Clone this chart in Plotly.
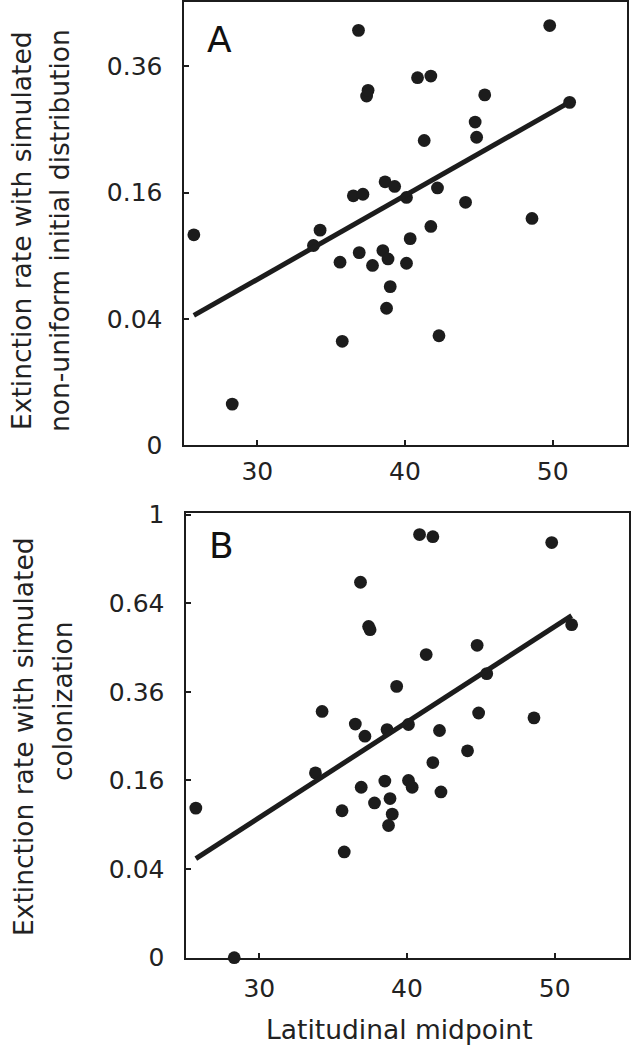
import numpy as np
import plotly.graph_objects as go

# ---- data ----
latitude = [25.7, 28.3, 33.8, 34.25, 35.6, 35.75, 36.5, 36.85, 36.9, 37.15,
            37.4, 37.5, 37.8, 38.5, 38.65, 38.75, 38.85, 39.0, 39.3, 40.1,
            40.1, 40.35, 40.85, 41.3, 41.75, 41.75, 42.2, 42.3, 44.1, 44.75,
            44.85, 45.4, 48.6, 49.8, 51.15]

rate_nonuniform = [0.111, 0.0042, 0.100, 0.116, 0.084, 0.027, 0.156, 0.432, 0.093, 0.158,
                   0.306, 0.316, 0.081, 0.095, 0.174, 0.047, 0.087, 0.063, 0.168, 0.083,
                   0.154, 0.107, 0.339, 0.233, 0.342, 0.120, 0.166, 0.030, 0.148, 0.262,
                   0.238, 0.308, 0.129, 0.442, 0.295]

rate_colonization = [0.114, 0.0, 0.174, 0.309, 0.110, 0.057, 0.278, 0.718, 0.148, 0.250,
                     0.559, 0.548, 0.122, 0.159, 0.265, 0.089, 0.129, 0.105, 0.375, 0.160,
                     0.277, 0.148, 0.912, 0.468, 0.194, 0.903, 0.263, 0.140, 0.218, 0.497,
                     0.305, 0.411, 0.293, 0.878, 0.565]

ytick_a = [0, 0.04, 0.16, 0.36]
ytick_b = [0, 0.04, 0.16, 0.36, 0.64, 1]
xtick = [30, 40, 50]

INK = "#1c1c1c"
FONT = "DejaVu Sans"

fig = go.Figure()

def add_panel(rates, xa, ya):
    x = np.array(latitude)
    s = np.sqrt(np.array(rates))
    fig.add_trace(go.Scatter(x=x, y=s, mode="markers", xaxis=xa, yaxis=ya,
                             marker=dict(size=12.8, color=INK), cliponaxis=False,
                             showlegend=False))
    b, a = np.polyfit(x, s, 1)
    xl = np.array([x.min(), x.max()])
    fig.add_trace(go.Scatter(x=xl, y=a + b * xl, mode="lines", xaxis=xa, yaxis=ya,
                             line=dict(color=INK, width=5), showlegend=False))

add_panel(rate_nonuniform, "x", "y")
add_panel(rate_colonization, "x2", "y2")

axis_common = dict(showline=True, linecolor=INK, linewidth=2, mirror=True,
                   ticks="inside", ticklen=5, tickwidth=1.5, tickcolor=INK,
                   showgrid=False, zeroline=False,
                   tickfont=dict(family=FONT, size=25, color="#222"))

fig.update_layout(
    width=639, height=1050,
    margin=dict(l=0, r=0, t=0, b=0, autoexpand=False),
    paper_bgcolor="white", plot_bgcolor="white",
    xaxis=dict(domain=[183.5 / 639, 626.5 / 639], range=[25, 55], tickvals=xtick,
               anchor="y", ticklabelstandoff=3, **axis_common),
    yaxis=dict(domain=[1 - 445 / 1050, 1 - 1.5 / 1050], range=[0, 0.703],
               tickvals=list(np.sqrt(ytick_a)), ticktext=[str(v) for v in ytick_a],
               anchor="x", ticklabelstandoff=14, **axis_common),
    xaxis2=dict(domain=[185.5 / 639, 628.5 / 639], range=[25, 55], tickvals=xtick,
                anchor="y2", ticklabelstandoff=7, **axis_common),
    yaxis2=dict(domain=[1 - 957.7 / 1050, 1 - 513.3 / 1050], range=[0, 1.003],
                tickvals=list(np.sqrt(ytick_b)), ticktext=[str(v) for v in ytick_b],
                anchor="x2", ticklabelstandoff=14, **axis_common),
)

ann_font = dict(family=FONT, size=26.5, color="#222")
annotations = [
    dict(text="A", x=219 / 639, y=1 - 40 / 1050, font=dict(family=FONT, size=36, color="#111")),
    dict(text="B", x=221 / 639, y=1 - 545 / 1050, font=dict(family=FONT, size=36, color="#111")),
    dict(text="Extinction rate with simulated", x=22 / 639, y=1 - 231 / 1050,
         textangle=-90, font=ann_font),
    dict(text="non-uniform initial distribution", x=60 / 639, y=1 - 231 / 1050,
         textangle=-90, font=ann_font),
    dict(text="Extinction rate with simulated", x=23 / 639, y=1 - 737 / 1050,
         textangle=-90, font=ann_font),
    dict(text="colonization", x=62 / 639, y=1 - 702 / 1050,
         textangle=-90, font=ann_font),
    dict(text="Latitudinal midpoint", x=399 / 639, y=1 - 1029 / 1050,
         font=dict(family=FONT, size=26.5, color="#222")),
]
for a in annotations:
    a.update(xref="paper", yref="paper", showarrow=False, xanchor="center", yanchor="middle")
fig.update_layout(annotations=annotations)

fig.write_html("out.html", config={"displayModeBar": False},
               post_script="document.body.style.margin='0';document.body.style.overflow='hidden';")
